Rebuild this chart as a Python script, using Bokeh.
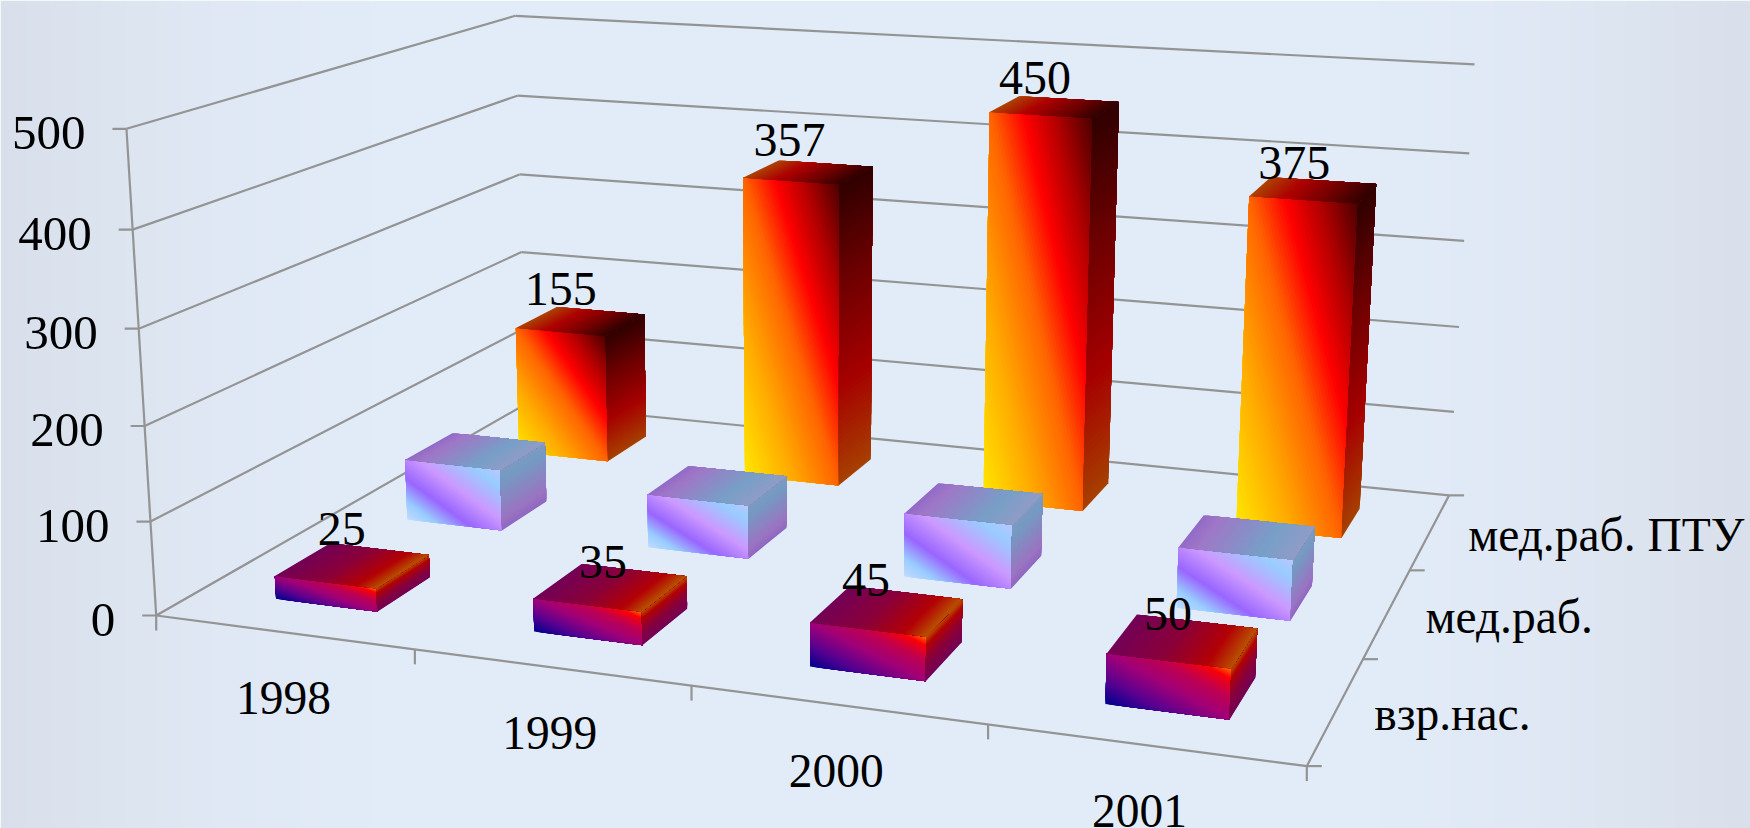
from bokeh.plotting import figure
from bokeh.models import ColumnDataSource, Range1d
from bokeh.embed import file_html
from bokeh.resources import INLINE
from bokeh.core.properties import value
import numpy as np

# Chart data
years = ["1998", "1999", "2000", "2001"]
groups = ["взр.нас.", "мед.раб.", "мед.раб. ПТУ"]
adults = [25, 35, 45, 50]
medical = [70, 60, 70, 65]
medical_school = [155, 357, 450, 375]
value_ticks = [0, 100, 200, 300, 400, 500]
VMAX = 500

W, H = 1750, 828
FONT = value("Liberation Serif")
GRID = "#949494"

# Pinhole camera: (u, v, z, 1) in the unit cube -> page pixels
CAMERA = np.array([
    [980.8, 508.8, -35.2, 155.7],
    [51.07, -104.0, -492.3, 615.0],
    [-0.13, 0.2658, -0.0435, 1.0],
])


def project(u, v, z):
    hx, hy, hw = CAMERA @ np.array([u, v, z, 1.0])
    return hx / hw, hy / hw


p = figure(width=W, height=H, x_range=Range1d(0, W), y_range=Range1d(H, 0),
           toolbar_location=None, output_backend="svg", min_border=0)
p.axis.visible = False
p.grid.visible = False
p.outline_line_color = None

# Page backdrop: pale blue, greying towards the side edges
centre = np.array([226, 236, 248.0])
edge = np.array([217, 224, 235.0])
gx = np.linspace(0, 1, 350)
img = np.zeros((4, gx.size), dtype=np.uint32)
view = img.view(dtype=np.uint8).reshape((4, gx.size, 4))
fade = np.clip((np.abs(gx - 0.5) * 2 - 0.58) / 0.42, 0, 1) ** 1.3
for ch in range(3):
    view[:, :, ch] = centre[ch] + (edge[ch] - centre[ch]) * fade
view[:, :, 3] = 255
p.image_rgba(image=[img], x=0, y=0, dw=W, dh=H)


def seg(a, b):
    (x0, y0), (x1, y1) = project(*a), project(*b)
    return [x0, x1], [y0, y1]


# Walls, floor edges and tick stubs
lines = []
for t in value_ticks:
    z = t / VMAX
    lines.append(seg((0, 0, z), (0, 1, z)))
    lines.append(seg((0, 1, z), (1, 1, z)))
    x0, y0 = project(0, 0, z)
    lines.append(([x0 - 14, x0], [y0, y0]))
lines.append(seg((0, 0, 0), (0, 0, 1)))
lines.append(seg((0, 0, 0), (1, 0, 0)))
lines.append(seg((1, 0, 0), (1, 1, 0)))
for i in range(len(years) + 1):
    x0, y0 = project(i / len(years), 0, 0)
    lines.append(([x0, x0], [y0, y0 + 15]))
for j in range(len(groups) + 1):
    x0, y0 = project(1, j / len(groups), 0)
    lines.append(([x0, x0 + 15], [y0, y0]))
p.multi_line([l[0] for l in lines], [l[1] for l in lines], line_color=GRID, line_width=2.2)


def hexs(s):
    return np.array([int(s[i:i + 2], 16) for i in (1, 3, 5)], dtype=float)


FIRE = [(0, "#ffe800"), (0.27, "#ffa800"), (0.5, "#ff6400"), (0.667, "#ff0000"),
        (0.84, "#a80000"), (1, "#4a0000")]
SUNSET = [(0, "#000090"), (0.25, "#5a0090"), (0.5, "#a00078"), (0.72, "#c00050"),
          (0.9, "#f80008"), (1, "#ff7000")]
LILAC = [(0, "#c0dcff"), (0.15, "#99ccff"), (0.34, "#9966ff"), (0.58, "#cc99ff"),
         (0.85, "#99ccff"), (1, "#b8c8ff")]


def shade(stops, t, k):
    ts = [a for a, _ in stops]
    cols = np.array([hexs(c) for _, c in stops])
    rgb = [np.interp(t, ts, cols[:, n]) * k for n in range(3)]
    return "#%02x%02x%02x" % tuple(int(round(min(255, c))) for c in rgb)


def clip_above(poly, fn, limit):
    out = []
    for n, a in enumerate(poly):
        b = poly[(n + 1) % len(poly)]
        fa, fb = fn(*a) - limit, fn(*b) - limit
        if fa >= 0:
            out.append(a)
        if (fa >= 0) != (fb >= 0):
            r = fa / (fa - fb)
            out.append((a[0] + (b[0] - a[0]) * r, a[1] + (b[1] - a[1]) * r))
    return out


xs, ys, cs = [], [], []


def paint_face(mapper, tfun, stops, k, steps=64):
    """Fill a box face with a colour ramp; each layer covers the rest of the
    face from its own ramp position onwards, so no seams show between layers."""
    square = [(0, 0), (1, 0), (1, 1), (0, 1)]
    values = [tfun(*q) for q in square]
    lo, hi = min(values), max(values)
    for n in range(steps):
        a = lo + (hi - lo) * n / steps
        b = lo + (hi - lo) * (n + 1) / steps
        layer = clip_above(square, tfun, a)
        if len(layer) < 3:
            continue
        pts = [project(*mapper(s, h)) for s, h in layer]
        xs.append([q[0] for q in pts])
        ys.append([q[1] for q in pts])
        cs.append(shade(stops, (a + b) / 2, k))


def box(i, j, val, stops, side_k, top_k, side_top=1.0):
    u0, u1 = (i + 0.3) / len(years), (i + 0.7) / len(years)
    v0, v1 = (j + 0.3) / len(groups), (j + 0.7) / len(groups)
    z = val / VMAX
    paint_face(lambda s, h: (u0 + (u1 - u0) * s, v0, z * h), lambda s, h: (s + h) / 2, stops, 1.0)
    paint_face(lambda s, h: (u1, v0 + (v1 - v0) * s, z * h),
               lambda s, h: 0.5 + (side_top - 0.5) * h + 0.001 * s, stops, side_k)
    paint_face(lambda s, h: (u0 + (u1 - u0) * s, v0 + (v1 - v0) * h, z),
               lambda s, h: (1 + s) / 2 + 0.001 * h, stops, top_k)


# Back row first so nearer boxes cover it
for i, val in enumerate(medical_school):
    box(i, 2, val, FIRE, 0.65, 0.68)
for i, val in enumerate(medical):
    box(i, 1, val, LILAC, 0.76, 0.78, side_top=0.92)
for i, val in enumerate(adults):
    box(i, 0, val, SUNSET, 0.72, 0.72)

p.patches(xs="x", ys="y", source=ColumnDataSource(dict(x=xs, y=ys, c=cs)),
          fill_color="c", line_color=None)


def put(x, y, txt, align="center", size="47.5px"):
    p.text(x=[x], y=[y], text=[txt], text_font=FONT, text_font_size=size,
           text_color="#000000", text_align=align, text_baseline="middle")


# Value-axis labels
for t in value_ticks:
    x0, y0 = project(0, 0, t / VMAX)
    put(x0 - 41, y0 + 4, str(t), "right", "49px")

# Year labels under the front edge
YEAR_NUDGE = [0, -1, -1, -5]
for i, name in enumerate(years):
    x0, y0 = project((i + 0.5) / len(years), 0, 0)
    put(x0 + YEAR_NUDGE[i], y0 + 66, name)

# Group labels beside the right edge
for j, name in enumerate(groups):
    x0, y0 = project(1, (j + 0.5) / len(groups), 0)
    put(x0 + 38, y0 + 4, name, "left")

# Data labels above the labelled boxes
ROW0_NUDGE = [(-11, -36), (-8, -25), (-21, -31), (-15, -27)]
ROW2_NUDGE = [(-20, -32), (-19, -32), (-20, -29), (-19, -27)]
for j, vals, nudges in ((0, adults, ROW0_NUDGE), (2, medical_school, ROW2_NUDGE)):
    for i, val in enumerate(vals):
        x0, y0 = project((i + 0.5) / len(years), (j + 0.5) / len(groups), val / VMAX)
        put(x0 + nudges[i][0], y0 + nudges[i][1], str(val), size="48px")

open("out.html", "w").write(file_html(p, INLINE))
